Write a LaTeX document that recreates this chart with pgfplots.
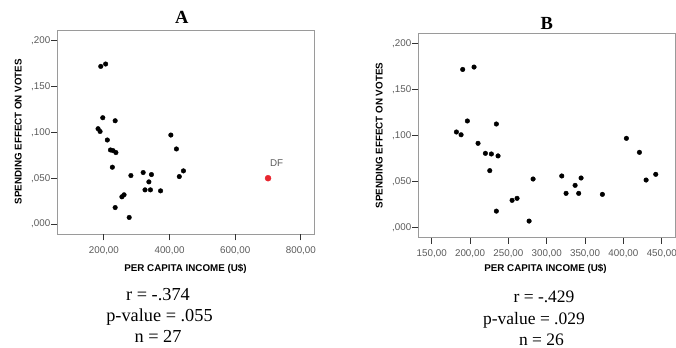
\documentclass[border=0pt]{standalone}
\usepackage{pgfplots}
\usepackage{pgfplotstable}
\pgfplotsset{compat=1.18}
\usepackage{fontspec}
\setmainfont{Liberation Serif}
\setsansfont{Liberation Sans}
\definecolor{framegray}{HTML}{9A9A9A}
\definecolor{tickgray}{HTML}{333333}
\definecolor{labgray}{HTML}{5A5A5A}
\definecolor{dfred}{HTML}{E8262F}

\pgfplotstableread{
x y
182.2 0.104
188.3 0.101
190.4 0.172
196.5 0.116
205.2 0.1746
210.4 0.0917
220.0 0.0808
225.7 0.062
227.8 0.0801
234.3 0.1127
234.3 0.018
236.5 0.078
254.8 0.0297
261.3 0.0319
277.0 0.0072
282.2 0.0529
319.6 0.0562
325.2 0.0373
337.0 0.046
341.7 0.0373
344.8 0.054
372.6 0.0362
403.9 0.0971
420.9 0.0819
429.6 0.0518
442.2 0.058
}\dataB

\pgfplotstableread{
x y
700 0.050
}\dataDF

\pgfplotsset{spss/.style={
  scale only axis, clip=false,
  axis line style={framegray, line width=0.9bp},
  tick align=outside, xtick pos=left, ytick pos=left,
  major tick length=6bp,
  major tick style={draw=tickgray, line width=0.9bp},
  minor tick num=0,
  ticklabel style={font=\sffamily\fontsize{9.8bp}{11bp}\selectfont, text=labgray},
  xticklabel style={yshift=-2.5bp},
  yticklabel style={xshift=2.5bp},
  ytick={0,0.05,0.1,0.15,0.2},
  yticklabels={\textsf{,000},\textsf{,050},\textsf{,100},\textsf{,150},\textsf{,200}},
  scaled ticks=false,
}}

\newcommand{\labfont}{\sffamily\bfseries\fontsize{9.8bp}{11bp}\selectfont}
\newcommand{\statA}{\rmfamily\fontsize{18.3bp}{20bp}\selectfont}
\newcommand{\statB}{\rmfamily\fontsize{17.5bp}{20bp}\selectfont}

\begin{document}
\begin{tikzpicture}
\path[use as bounding box] (0bp,0bp) rectangle (676bp,-348bp);

% Panel A
\begin{axis}[spss,
  at={(57.3bp,-234.3bp)}, anchor=south west,
  width=256.7bp, height=204.3bp,
  xmin=58, xmax=840, ymin=-0.0112, ymax=0.2117,
  xtick={200,400,600,800},
  xticklabels={\textsf{200,00},\textsf{400,00},\textsf{600,00},\textsf{800,00}},
]
\addplot[only marks, mark=*, mark size=2.3bp, black] table[x=x,y=y]{\dataB};
\addplot[only marks, mark=*, mark size=3bp, dfred, mark options={draw=dfred, fill=dfred}] table[x=x,y=y]{\dataDF};
\node[font=\sffamily\fontsize{9.8bp}{11bp}\selectfont, text=labgray] at (axis cs:726,0.0666) {DF};
\pgfplotsinvokeforeach{200,400,600,800}{
  \draw[tickgray, line width=0.9bp] (axis cs:#1,-0.0112) -- ++(0bp,-6bp);
}
\pgfplotsinvokeforeach{0,0.05,0.1,0.15,0.2}{
  \draw[tickgray, line width=0.9bp] (axis cs:58,#1) -- ++(-6bp,0bp);
}
\end{axis}

% Panel B
\begin{axis}[spss,
  at={(418.3bp,-237.7bp)}, anchor=south west,
  width=256.7bp, height=204.4bp,
  xmin=132.5, xmax=467.3, ymin=-0.0109, ymax=0.2113,
  xtick={150,200,250,300,350,400,450},
  xticklabels={\textsf{150,00},\textsf{200,00},\textsf{250,00},\textsf{300,00},\textsf{350,00},\textsf{400,00},\textsf{450,00}},
]
\addplot[only marks, mark=*, mark size=2.3bp, black] table[x=x,y=y]{\dataB};
\pgfplotsinvokeforeach{150,200,250,300,350,400,450}{
  \draw[tickgray, line width=0.9bp] (axis cs:#1,-0.0109) -- ++(0bp,-6bp);
}
\pgfplotsinvokeforeach{0,0.05,0.1,0.15,0.2}{
  \draw[tickgray, line width=0.9bp] (axis cs:132.5,#1) -- ++(-6bp,0bp);
}
\end{axis}

% Titles
\node[anchor=base, font=\rmfamily\bfseries\fontsize{18.5bp}{20bp}\selectfont] at (181.7bp,-23.3bp) {A};
\node[anchor=base, font=\rmfamily\bfseries\fontsize{18.5bp}{20bp}\selectfont] at (546.7bp,-29.3bp) {B};

% Axis labels
\node[rotate=90, font=\labfont] at (18.3bp,-131.7bp) {SPENDING EFFECT ON VOTES};
\node[rotate=90, font=\labfont] at (379.3bp,-135.5bp) {SPENDING EFFECT ON VOTES};
\node[font=\labfont] at (185.5bp,-268.5bp) {PER CAPITA INCOME (U\$)};
\node[font=\labfont] at (545.5bp,-268.5bp) {PER CAPITA INCOME (U\$)};

% Statistics
\node[anchor=base, font=\statA] at (158bp,-300.5bp) {r = -.374};
\node[anchor=base, font=\statA] at (159.5bp,-321.5bp) {p-value = .055};
\node[anchor=base, font=\statA] at (158bp,-342bp) {n = 27};
\node[anchor=base, font=\statB] at (544bp,-302.5bp) {r = -.429};
\node[anchor=base, font=\statB] at (534bp,-324.5bp) {p-value = .029};
\node[anchor=base, font=\statB] at (541.5bp,-345.5bp) {n = 26};
\end{tikzpicture}
\end{document}
